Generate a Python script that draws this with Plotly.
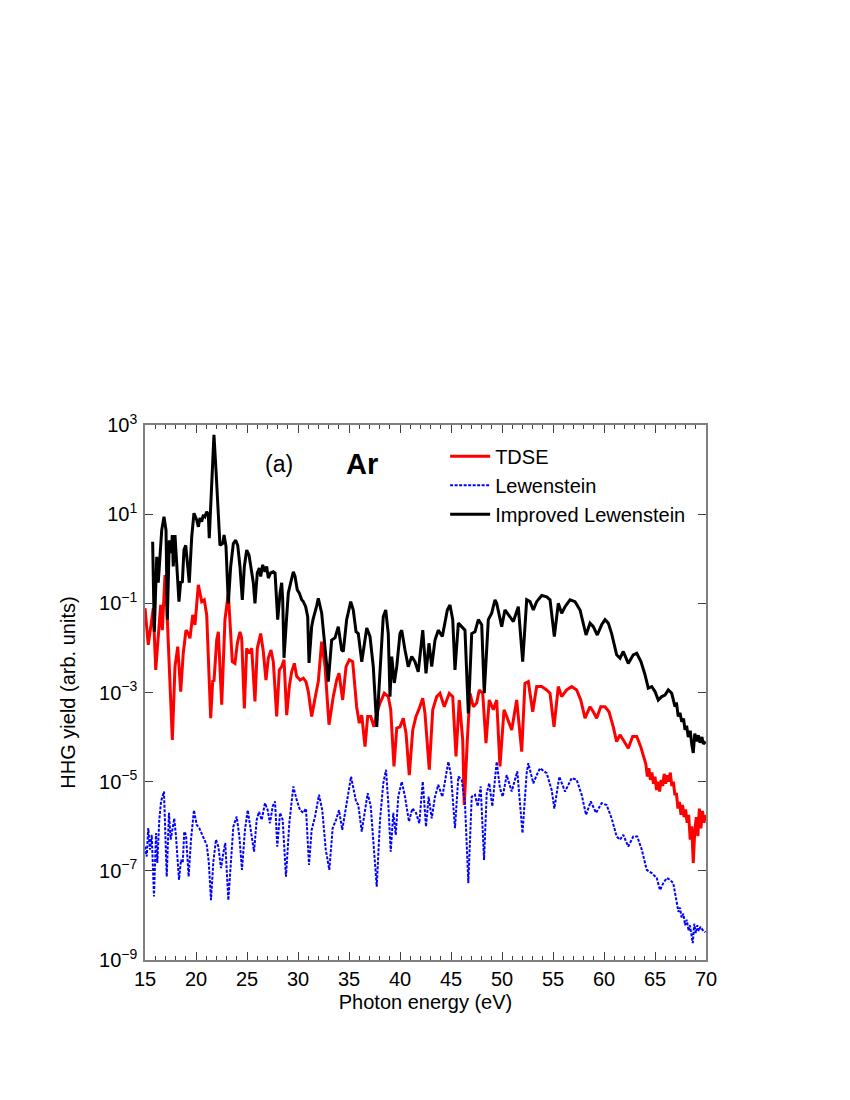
import plotly.graph_objects as go

# ---------------- data ----------------
tdse_x = [15.0, 15.32, 15.66, 15.81, 16.05, 16.30, 16.54, 16.70, 16.86, 16.96, 17.11, 17.38, 17.68, 17.94,
          18.21, 18.50, 18.75, 19.02, 19.25, 19.41, 19.68, 19.90, 20.23, 20.56, 20.81, 21.05, 21.44, 21.64,
          21.76, 22.03, 22.19, 22.52, 22.84, 23.17, 23.33, 23.56, 23.82, 24.05, 24.31, 24.48, 24.74, 24.97,
          25.20, 25.46, 25.78, 26.01, 26.34, 26.60, 26.86, 27.09, 27.35, 27.58, 27.91, 28.17, 28.40, 28.63,
          28.89, 29.15, 29.38, 29.64, 29.87, 30.20, 30.52, 30.78, 31.01, 31.34, 31.67, 31.99, 32.32, 32.65,
          33.04, 33.46, 33.79, 34.02, 34.38, 34.71, 35.03, 35.36, 35.75, 36.01, 36.25, 36.57, 36.83, 37.13,
          37.45, 37.72, 38.04, 38.46, 38.85, 39.09, 39.41, 39.68, 40.0, 40.32, 40.59, 40.91, 41.25, 41.57,
          41.89, 42.23, 42.45, 42.87, 43.21, 43.60, 43.92, 44.34, 44.83, 45.17, 45.49, 45.81, 46.15, 46.30,
          46.60, 46.86, 47.19, 47.52, 47.77, 48.11, 48.43, 48.75, 49.15, 49.48, 49.80, 50.20, 50.46, 50.95,
          51.44, 51.93, 52.25, 52.58, 53.01, 53.40, 53.89, 54.38, 54.71, 55.10, 55.52, 55.85, 56.34, 56.83,
          57.32, 57.72, 58.14, 58.63, 58.95, 59.28, 59.68, 60.10, 60.49, 60.91, 61.24, 61.57, 61.89, 62.38,
          62.81, 63.21, 63.60, 63.92, 64.1, 64.25, 64.4, 64.55, 64.7, 64.85, 65.0, 65.15, 65.3, 65.45,
          65.6, 65.75, 65.9, 66.05, 66.2, 66.35, 66.5, 66.65, 66.8, 66.95, 67.1, 67.25, 67.4, 67.55,
          67.7, 67.85, 68.0, 68.15, 68.3, 68.45, 68.6, 68.75, 68.9, 69.05, 69.2, 69.35, 69.5, 69.65,
          69.8, 69.95]
tdse_y = [7.8e-2, 1.17e-2, 4.3e-2, 7.8e-2, 3.2e-3, 2.3e-2, 9.2e-2, 2.5e-2, 1.0e-1, 4.3e-1, 1.2e-1, 3.8e-3, 8.6e-5, 3.8e-3,
          1.07e-2, 1.05e-3, 7.6e-3, 2.5e-2, 2.1e-2, 1.65e-2, 5.5e-2, 3.3e-2, 2.6e-1, 1.09e-1, 1.2e-1, 5.5e-2, 2.65e-4, 1.9e-3,
          1.75e-3, 1.5e-2, 2.3e-2, 5.3e-4, 4.3e-2, 1.7e-1, 3.6e-2, 4.9e-3, 4.5e-3, 1.27e-2, 2.3e-2, 1.65e-2, 4.4e-4, 9.8e-3,
          7.6e-3, 9.8e-3, 6.3e-4, 9.8e-3, 2.1e-2, 8.3e-3, 1.9e-3, 5.9e-3, 9.0e-3, 4.9e-3, 2.9e-4, 3.2e-3, 3.8e-3, 5.4e-3,
          3.1e-4, 1.36e-3, 2.9e-3, 4.5e-3, 2.3e-3, 1.9e-3, 2.1e-3, 1.75e-3, 1.05e-3, 2.9e-4, 7.4e-4, 1.75e-3, 1.38e-2, 3.8e-3,
          1.9e-4, 8.1e-4, 1.9e-3, 2.7e-3, 6.8e-4, 3.8e-3, 5.4e-3, 4.9e-3, 4.8e-4, 2.05e-4, 3.1e-4, 6.1e-5, 2.9e-4, 2.9e-4,
          1.7e-4, 3.4e-4, 5.8e-4, 9.6e-4, 8.1e-4, 4.1e-4, 2.2e-5, 1.6e-4, 1.7e-4, 2.65e-4, 1.22e-4, 1.4e-5, 1.45e-4, 2.9e-4,
          4.4e-4, 7.4e-4, 3.4e-4, 1.85e-5, 4.1e-4, 8.1e-4, 9.6e-4, 4.8e-4, 9.6e-4, 8.1e-4, 3.7e-5, 6.8e-4, 8.6e-5, 3.0e-6,
          8.6e-5, 9.6e-4, 4.8e-4, 5.8e-4, 1.14e-3, 9.6e-4, 7.3e-5, 6.8e-4, 4.1e-4, 6.8e-4, 2.2e-5, 4.1e-4, 2.9e-4, 1.45e-4,
          6.8e-4, 4.7e-5, 1.6e-3, 1.75e-3, 3.7e-4, 1.36e-3, 1.36e-3, 1.14e-3, 9.6e-4, 1.7e-4, 1.36e-3, 8.1e-4, 1.14e-3, 1.36e-3,
          1.14e-3, 6.8e-4, 2.65e-4, 4.8e-4, 3.7e-4, 2.65e-4, 4.8e-4, 4.8e-4, 3.7e-4, 1.7e-4, 7.9e-5, 1.12e-4, 8.6e-5, 5.6e-5,
          1.03e-4, 1.03e-4, 6.1e-5, 3.7e-5, 2.5e-5, 1.3e-5, 2.0e-5, 1.1e-5, 1.6e-5, 9.0e-6, 1.3e-5, 6.5e-6, 1.0e-5, 6.0e-6,
          1.1e-5, 8.0e-6, 1.5e-5, 9.0e-6, 1.4e-5, 1.0e-5, 1.6e-5, 8.0e-6, 1.0e-5, 5.0e-6, 5.5e-6, 2.5e-6, 3.5e-6, 1.8e-6,
          3.0e-6, 1.6e-6, 2.4e-6, 1.2e-6, 1.8e-6, 5.0e-7, 1.0e-6, 1.5e-7, 8.0e-7, 1.6e-6, 6.0e-7, 2.5e-6, 9.0e-7, 2.2e-6,
          1.2e-6, 1.8e-6]

lew_x = [15.0, 15.17, 15.32, 15.49, 15.66, 15.88, 16.08, 16.21, 16.40, 16.57, 16.86, 17.13, 17.35, 17.52, 17.68,
         17.87, 18.04, 18.33, 18.53, 18.70, 18.85, 19.02, 19.28, 19.51, 19.80, 20.07, 20.32, 20.56, 20.81, 21.05,
         21.25, 21.47, 21.70, 21.96, 22.19, 22.45, 22.68, 22.87, 23.17, 23.40, 23.66, 23.99, 24.25, 24.51, 24.80,
         25.07, 25.36, 25.69, 25.95, 26.18, 26.44, 26.76, 27.03, 27.25, 27.52, 27.75, 27.97, 28.24, 28.50, 28.82,
         29.15, 29.54, 29.87, 30.20, 30.52, 30.78, 31.08, 31.34, 31.67, 32.06, 32.38, 32.72, 33.07, 33.40, 33.73,
         34.02, 34.34, 34.71, 35.20, 35.69, 35.91, 36.25, 36.57, 36.83, 37.13, 37.38, 37.72, 38.04, 38.36, 38.63,
         38.85, 39.09, 39.34, 39.58, 39.83, 40.17, 40.49, 40.88, 41.21, 41.57, 41.89, 42.23, 42.55, 42.81, 43.11,
         43.43, 43.75, 44.15, 44.58, 44.74, 45.0, 45.39, 45.72, 46.05, 46.37, 46.70, 47.03, 47.35, 47.62, 47.91,
         48.24, 48.50, 48.75, 49.05, 49.48, 49.80, 50.07, 50.46, 50.95, 51.50, 52.01, 52.42, 52.58, 53.07, 53.40,
         53.73, 54.38, 54.87, 55.13, 55.62, 56.18, 56.83, 57.32, 57.81, 58.24, 58.70, 59.22, 59.77, 60.26, 60.75,
         61.24, 61.57, 61.89, 62.38, 62.87, 63.26, 63.70, 64.19, 64.68, 65.17, 65.49, 65.81, 66.15, 66.47, 66.79,
         67.13, 67.3, 67.45, 67.6, 67.78, 67.95, 68.11, 68.3, 68.43, 68.55, 68.70, 68.85, 69.0, 69.15, 69.3,
         69.45, 69.6, 69.75, 69.95]
lew_y = [3.5e-7, 2.1e-7, 9.1e-7, 3.0e-7, 6.4e-7, 2.65e-8, 7.0e-7, 1.5e-7, 1.39e-6, 3.6e-6, 6.0e-6, 7.4e-8, 2.0e-6, 5.0e-7, 8.3e-7,
         1.5e-6, 5.9e-7, 6.3e-8, 1.76e-7, 1.5e-7, 7.6e-7, 6.4e-7, 7.4e-8, 5.0e-7, 2.3e-6, 1.07e-6, 9.1e-7, 7.0e-7, 5.4e-7, 3.8e-7,
         1.6e-7, 2.2e-8, 1.6e-7, 5.0e-7, 3.5e-7, 1.15e-7, 2.5e-7, 4.2e-7, 2.2e-8, 1.36e-7, 9.8e-7, 1.65e-6, 5.9e-7, 1.05e-7, 8.3e-7,
         2.3e-6, 8.3e-7, 2.7e-7, 1.39e-6, 2.1e-6, 1.39e-6, 3.3e-6, 2.3e-6, 1.17e-6, 2.8e-6, 3.6e-6, 3.5e-7, 2.0e-6, 1.39e-6, 7.4e-8,
         1.17e-6, 7.8e-6, 3.9e-6, 2.3e-6, 2.0e-6, 2.5e-6, 1.36e-7, 8.3e-7, 1.65e-6, 5.1e-6, 2.3e-6, 3.0e-7, 1.05e-7, 9.1e-7, 1.39e-6,
         2.3e-6, 8.3e-7, 2.8e-6, 1.3e-5, 3.6e-6, 3.0e-6, 7.6e-7, 2.3e-6, 5.5e-6, 2.8e-6, 4.2e-7, 4.4e-8, 1.39e-6, 9.2e-6, 1.85e-5,
         3.3e-6, 2.7e-7, 2.0e-6, 6.4e-7, 4.6e-6, 1.0e-5, 4.6e-6, 1.27e-6, 2.5e-6, 2.0e-6, 1.17e-6, 1.0e-5, 9.8e-7, 4.6e-6, 1.5e-6,
         4.6e-6, 8.5e-6, 4.6e-6, 1.85e-5, 2.8e-5, 1.4e-5, 9.1e-7, 1.3e-5, 1.1e-5, 3.3e-6, 5.3e-8, 4.6e-6, 5.1e-6, 2.8e-6, 7.8e-6,
         1.76e-7, 5.5e-6, 9.2e-6, 2.8e-6, 2.8e-5, 7.1e-6, 4.6e-6, 1.4e-5, 6.0e-6, 1.7e-5, 7.0e-7, 1.55e-5, 2.6e-5, 9.2e-6, 1.4e-5,
         2.0e-5, 1.55e-5, 6.5e-6, 2.5e-6, 1.3e-5, 6.0e-6, 1.2e-5, 1.1e-5, 5.1e-6, 1.8e-6, 3.6e-6, 2.0e-6, 3.3e-6, 3.0e-6, 1.5e-6,
         5.9e-7, 5.0e-7, 6.4e-7, 3.5e-7, 5.9e-7, 5.9e-7, 3.0e-7, 1.05e-7, 8.9e-8, 6.9e-8, 3.7e-8, 5.3e-8, 6.9e-8, 6.3e-8, 5.3e-8,
         1.9e-8, 1.2e-8, 1.5e-8, 9.0e-9, 1.1e-8, 6.0e-9, 8.0e-9, 4.5e-9, 6.0e-9, 3.5e-9, 2.4e-9, 6.5e-9, 4.0e-9, 6.0e-9, 4.5e-9,
         5.5e-9, 4.8e-9, 4.5e-9, 4.2e-9]

imp_x = [15.75, 15.91, 16.15, 16.30, 16.64, 16.86, 17.06, 17.19, 17.38, 17.55, 17.68, 17.77, 17.94, 18.11,
         18.33, 18.50, 18.66, 18.82, 18.99, 19.19, 19.34, 19.58, 19.80, 20.07, 20.23, 20.39, 20.56, 20.72,
         20.88, 21.05, 21.21, 21.30, 21.54, 21.76, 21.96, 22.19, 22.35, 22.62, 22.75, 22.94, 23.17, 23.40,
         23.66, 23.89, 24.09, 24.31, 24.54, 24.74, 24.97, 25.20, 25.39, 25.62, 25.78, 26.01, 26.21, 26.34,
         26.54, 26.76, 26.93, 27.09, 27.32, 27.58, 27.75, 28.01, 28.24, 28.40, 28.50, 28.63, 28.87, 29.05,
         29.28, 29.54, 29.71, 29.93, 30.13, 30.36, 30.52, 30.75, 30.95, 31.08, 31.34, 31.47, 31.83, 31.99,
         32.32, 32.65, 32.97, 33.30, 33.63, 33.95, 34.28, 34.44, 34.77, 35.17, 35.42, 35.69, 35.91, 36.25,
         36.74, 37.06, 37.38, 37.72, 38.04, 38.36, 38.60, 38.85, 39.02, 39.19, 39.44, 39.68, 40.0, 40.17,
         40.49, 40.81, 41.15, 41.47, 41.79, 42.23, 42.55, 42.84, 43.11, 43.43, 43.75, 44.15, 44.64, 44.90,
         45.17, 45.39, 45.72, 46.05, 46.37, 46.70, 47.03, 47.35, 47.68, 48.01, 48.26, 48.66, 48.99, 49.31,
         49.48, 49.97, 50.29, 50.78, 51.11, 51.60, 52.03, 52.42, 52.75, 53.07, 53.40, 53.89, 54.38, 54.71,
         55.13, 55.52, 55.85, 56.18, 56.67, 57.16, 57.65, 58.24, 58.63, 58.95, 59.34, 59.77, 60.10, 60.42,
         60.75, 61.24, 61.57, 61.89, 62.38, 62.87, 63.21, 63.63, 64.02, 64.34, 64.68, 65.0, 65.32, 65.66,
         65.98, 66.30, 66.64, 66.96, 67.1, 67.28, 67.45, 67.62, 67.8, 67.94, 68.1, 68.26, 68.45, 68.6,
         68.75, 68.9, 69.09, 69.25, 69.41, 69.6, 69.74, 69.95]
imp_y = [2.4, 2.3e-2, 1.1, 2.9e-1, 4.4, 8.8, 4.4, 4.3e-2, 2.6, 1.35, 3.4, 0.67, 3.4, 0.94,
         0.109, 0.31, 0.29, 1.57, 2.0, 0.67, 0.29, 3.1, 10.5, 7.4, 5.2, 8.2, 6.8, 9.6,
         8.8, 11.4, 9.6, 2.9, 41.0, 600.0, 98.0, 7.4, 2.0, 2.2, 3.4, 1.9, 0.10, 0.67,
         2.2, 2.6, 2.0, 0.67, 0.12, 0.67, 1.57, 1.2, 0.67, 0.29, 0.10, 0.48, 0.62, 0.40,
         0.73, 0.51, 0.67, 0.37, 0.48, 0.51, 0.48, 0.043, 0.17, 0.29, 0.12, 6.0e-3, 0.043, 0.17,
         0.29, 0.51, 0.40, 0.20, 0.17, 0.12, 0.11, 0.084, 0.050, 4.6e-3, 0.030, 0.043, 0.088, 0.13,
         0.061, 9.0e-3, 1.75e-3, 0.015, 0.0168, 0.030, 9.0e-3, 8.3e-3, 0.043, 0.109, 0.071, 0.023, 0.021, 4.9e-3,
         0.028, 0.018, 3.8e-3, 1.7e-4, 3.8e-3, 0.050, 0.071, 0.021, 8.1e-4, 6.4e-3, 1.64e-3, 3.8e-3, 0.021, 0.025,
         9.0e-3, 3.8e-3, 6.4e-3, 4.9e-3, 2.9e-3, 0.025, 2.7e-3, 0.0127, 3.8e-3, 0.015, 0.025, 0.018, 0.071, 0.092,
         0.043, 3.2e-3, 0.036, 0.030, 0.025, 3.4e-4, 0.021, 0.023, 0.043, 0.033, 9.6e-4, 0.043, 0.060, 0.12,
         0.10, 0.030, 0.071, 0.050, 0.039, 0.084, 4.9e-3, 0.12, 0.109, 0.071, 0.109, 0.15, 0.14, 0.12,
         0.018, 0.10, 0.060, 0.084, 0.12, 0.109, 0.071, 0.0195, 0.036, 0.030, 0.0195, 0.033, 0.043, 0.036,
         0.021, 7.0e-3, 5.9e-3, 8.3e-3, 4.5e-3, 7.0e-3, 7.6e-3, 4.9e-3, 2.5e-3, 1.25e-3, 1.36e-3, 1.05e-3, 6.8e-4, 8.1e-4,
         8.8e-4, 1.14e-3, 9.6e-4, 4.8e-4, 6.0e-4, 2.9e-4, 3.5e-4, 2.2e-4, 2.6e-4, 1.45e-4, 1.8e-4, 1.0e-4, 1.4e-4, 7.0e-5,
         4.4e-5, 1.2e-4, 8.0e-5, 1.1e-4, 7.5e-5, 1.0e-4, 7.0e-5, 8.0e-5]

series_names = ["TDSE", "Lewenstein", "Improved Lewenstein"]
y_tick_vals = [1e3, 1e1, 1e-1, 1e-3, 1e-5, 1e-7, 1e-9]
y_tick_text = ["10<sup>3</sup>", "10<sup>1</sup>", "10<sup>\u22121</sup>", "10<sup>\u22123</sup>",
               "10<sup>\u22125</sup>", "10<sup>\u22127</sup>", "10<sup>\u22129</sup>"]
x_tick_vals = [15, 20, 25, 30, 35, 40, 45, 50, 55, 60, 65, 70]

FONT = "Liberation Sans, Arial, sans-serif"

fig = go.Figure()
fig.add_trace(go.Scatter(x=tdse_x, y=tdse_y, mode="lines", name=series_names[0],
                         line=dict(color="#ff0000", width=3)))
fig.add_trace(go.Scatter(x=lew_x, y=lew_y, mode="lines", name=series_names[1],
                         line=dict(color="#0000ff", width=2, dash="3px,1.5px")))
fig.add_trace(go.Scatter(x=imp_x, y=imp_y, mode="lines", name=series_names[2],
                         line=dict(color="#000000", width=3)))

axis_common = dict(showline=True, linecolor="#808080", linewidth=1.5, mirror="ticks",
                   ticks="inside", tickcolor="#404040", showgrid=False, zeroline=False,
                   tickfont=dict(family=FONT, size=20, color="black"))

fig.update_xaxes(range=[15, 70], tickvals=x_tick_vals, ticklen=8, tickwidth=1,
                 minor=dict(dtick=1, ticks="inside", ticklen=4, tickcolor="#404040", showgrid=False),
                 title=dict(text="Photon energy (eV)", font=dict(family=FONT, size=20, color="black"), standoff=6),
                 **axis_common)
fig.update_yaxes(type="log", range=[-9, 3], tickvals=y_tick_vals, ticktext=y_tick_text, ticklen=8, tickwidth=1,
                 ticklabelstandoff=2,
                 title=dict(text="HHG yield (arb. units)", font=dict(family=FONT, size=20, color="black"), standoff=18),
                 **axis_common)

fig.add_annotation(x=0.239, y=0.927, xref="paper", yref="paper", text="(a)", showarrow=False,
                   font=dict(family=FONT, size=23, color="black"), xanchor="center", yanchor="middle")
fig.add_annotation(x=0.387, y=0.927, xref="paper", yref="paper", text="<b>Ar</b>", showarrow=False,
                   font=dict(family=FONT, size=29, color="black"), xanchor="center", yanchor="middle")

fig.update_layout(
    width=850, height=1100,
    margin=dict(l=137, r=152, t=417, b=148),
    paper_bgcolor="white", plot_bgcolor="white",
    font=dict(family=FONT, color="black"),
    legend=dict(x=0.535, y=0.978, xanchor="left", yanchor="top", bgcolor="rgba(0,0,0,0)",
                font=dict(family=FONT, size=20, color="black"), tracegroupgap=0, itemwidth=40),
    showlegend=True,
)

fig.write_html("out.html")
